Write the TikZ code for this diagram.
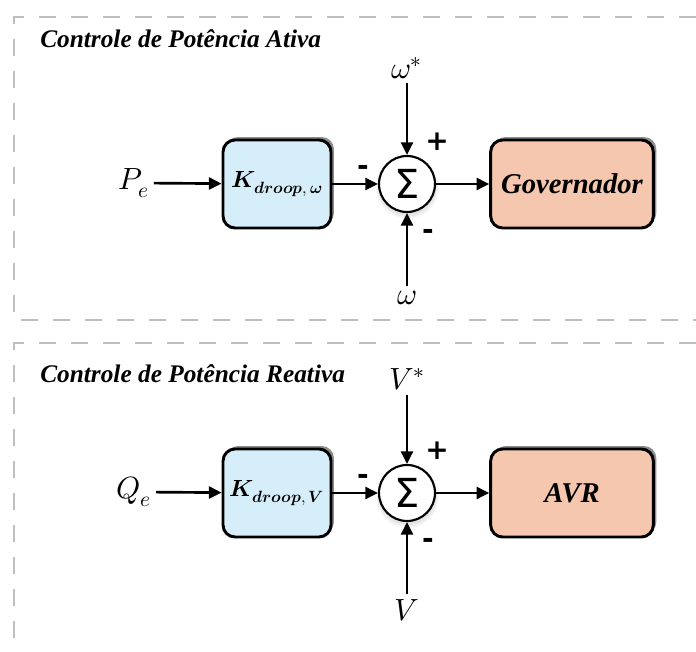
\documentclass[tikz,border=0pt]{standalone}
\usepackage{fontspec}
\usepackage{unicode-math}
\setmathfont{Latin Modern Math}
\newfontfamily\sigmafont{DejaVu Sans}
\newfontfamily\labelfont{Liberation Serif}
\usetikzlibrary{arrows.meta,shadows}
\definecolor{droopblue}{HTML}{D6EEF9}
\definecolor{actsalmon}{HTML}{F4C7AE}
\definecolor{framegray}{HTML}{BFBFBF}
\tikzset{
  frame/.style={draw=framegray,line width=2.2pt,dash pattern=on 13pt off 11pt},
  blk/.style={draw,line width=2.2pt,rounded corners=9pt,minimum height=66pt,
    drop shadow={shadow xshift=2.2pt,shadow yshift=2.2pt,fill=gray!90,opacity=1}},
  droop/.style={blk,fill=droopblue,minimum width=81pt,inner sep=2pt,font=\fontsize{17.5}{20}\selectfont},
  act/.style={blk,fill=actsalmon,minimum width=122pt,font=\labelfont\fontsize{21.5}{24}\selectfont\bfseries\itshape},
  sumc/.style={circle,draw,line width=1.6pt,fill=white,minimum size=42pt,inner sep=0pt,
    circular drop shadow={shadow xshift=0pt,shadow yshift=-2pt,shadow scale=1.15,fill=gray!60,opacity=0.35},
    font=\sigmafont\fontsize{30}{32}\selectfont},
  sig/.style={line width=2pt,-{Triangle[length=9.5pt,width=9pt]}},
  sgn/.style={font=\sigmafont\bfseries\fontsize{21}{22}\selectfont,inner sep=0pt},
  ttl/.style={anchor=base west,inner sep=0pt,font=\labelfont\fontsize{19}{22}\selectfont\bfseries\itshape},
}
\begin{document}
\begin{tikzpicture}[x=0.75pt,y=0.75pt,font=\fontsize{23}{26}\selectfont]
\useasboundingbox (0,0) rectangle (696,652);
% moldura dos dois controles
\draw[frame] (696,635)--(14,635)--(14,332)--(696,332);
\draw[frame] (696,309)--(14,309)--(14,-8);
\node[ttl] (t1) at (40,604) {Controle de Potência Ativa};
\node[ttl] (t2) at (40,269) {Controle de Potência Reativa};
% potencia ativa
\node[droop] (k1) at (277,468) {$\symbfit{K}_{\symbfit{droop},\,\symbfit{\omega}}$};
\node[sumc] (s1) at (407,468) {Σ};
\node[act] (g1) at (572,468) {Governador};
\node (pe) at (134,469) {$P_e$};
\node (w1r) at (407,584) {$\omega^*$};
\node (w1) at (407,354) {$\omega$};
\draw[sig] (pe)--(k1);
\draw[sig] (k1)--(s1);
\draw[sig] (w1r)--(s1);
\draw[sig] (w1)--(s1);
\draw[sig] (s1)--(g1);
\node[sgn] at (363,482) {-};
\node[sgn] at (437,510) {+};
\node[sgn] at (428,418) {-};
% potencia reativa
\node[droop] (k2) at (277,159) {$\symbfit{K}_{\symbfit{droop},\,\symbfit{V}}$};
\node[sumc] (s2) at (407,159) {Σ};
\node[act] (a2) at (572,159) {AVR};
\node (qe) at (134,160) {$Q_e$};
\node (v2r) at (407,273) {$V^*$};
\node (v2) at (407,42) {$V$};
\draw[sig] (qe)--(k2);
\draw[sig] (k2)--(s2);
\draw[sig] (v2r)--(s2);
\draw[sig] (v2)--(s2);
\draw[sig] (s2)--(a2);
\node[sgn] at (363,173) {-};
\node[sgn] at (437,201) {+};
\node[sgn] at (428,109) {-};
\end{tikzpicture}
\end{document}
